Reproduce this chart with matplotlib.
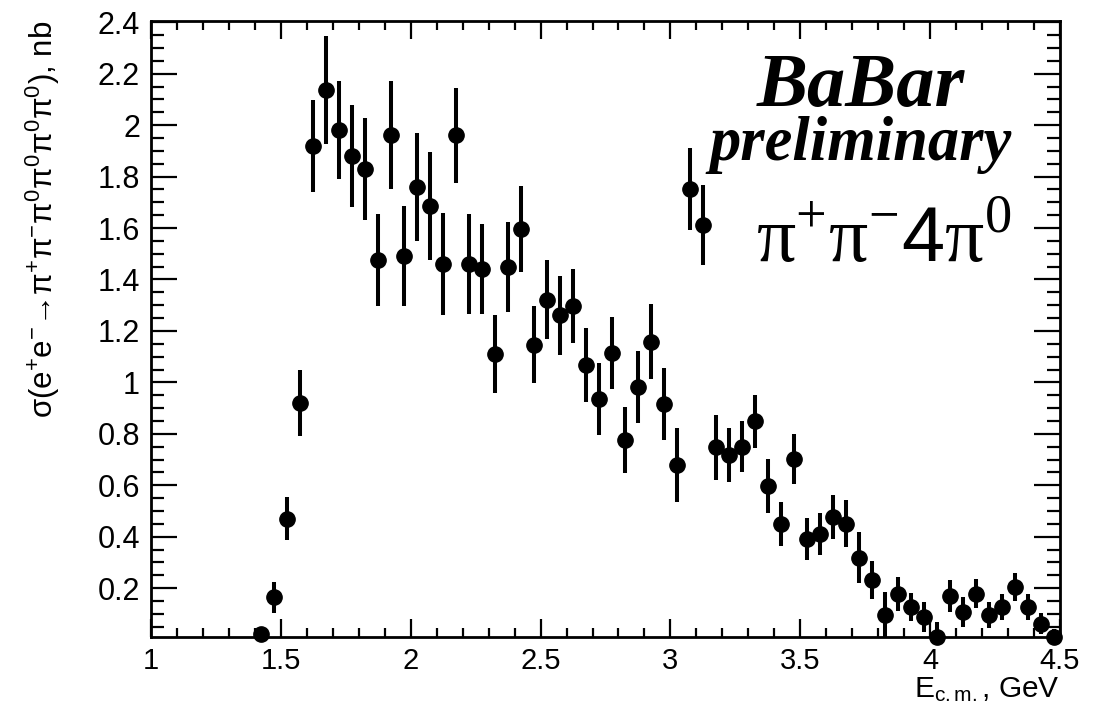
import matplotlib
matplotlib.use("Agg")
import matplotlib.pyplot as plt
from matplotlib.ticker import MultipleLocator, FixedLocator

plt.rcParams['font.family'] = ['Liberation Sans', 'DejaVu Sans']
plt.rcParams['mathtext.fontset'] = 'custom'
plt.rcParams['mathtext.rm'] = 'Liberation Sans'
plt.rcParams['mathtext.sf'] = 'Liberation Sans'
plt.rcParams['mathtext.it'] = 'Liberation Sans:italic'
plt.rcParams['mathtext.cal'] = 'Liberation Serif'
plt.rcParams['mathtext.bf'] = 'Liberation Sans:bold'

# ---- data ----
energy = [1.425, 1.475, 1.525, 1.575, 1.625, 1.675, 1.725, 1.775, 1.825, 1.875,
          1.925, 1.975, 2.025, 2.075, 2.125, 2.175, 2.225, 2.275, 2.325, 2.375,
          2.425, 2.475, 2.525, 2.575, 2.625, 2.675, 2.725, 2.775, 2.825, 2.875,
          2.925, 2.975, 3.025, 3.075, 3.125, 3.175, 3.225, 3.275, 3.325, 3.375,
          3.425, 3.475, 3.525, 3.575, 3.625, 3.675, 3.725, 3.775, 3.825, 3.875,
          3.925, 3.975, 4.025, 4.075, 4.125, 4.175, 4.225, 4.275, 4.325, 4.375,
          4.425, 4.475]
sigma = [0.02, 0.165, 0.47, 0.92, 1.92, 2.135, 1.98, 1.88, 1.83, 1.475,
         1.96, 1.49, 1.76, 1.685, 1.46, 1.96, 1.46, 1.44, 1.11, 1.45,
         1.595, 1.146, 1.322, 1.26, 1.296, 1.068, 0.935, 1.114, 0.776, 0.983,
         1.158, 0.916, 0.679, 1.753, 1.612, 0.747, 0.719, 0.75, 0.848, 0.598,
         0.449, 0.702, 0.391, 0.41, 0.477, 0.451, 0.319, 0.231, 0.095, 0.177,
         0.127, 0.088, 0.01, 0.17, 0.108, 0.179, 0.095, 0.127, 0.205, 0.127,
         0.062, 0.01]
sigma_err = [0.03, 0.06, 0.083, 0.13, 0.178, 0.21, 0.19, 0.20, 0.197, 0.18,
             0.21, 0.195, 0.21, 0.21, 0.20, 0.185, 0.195, 0.175, 0.15, 0.175,
             0.167, 0.149, 0.154, 0.154, 0.143, 0.143, 0.14, 0.139, 0.13, 0.14,
             0.145, 0.141, 0.144, 0.16, 0.156, 0.128, 0.105, 0.10, 0.104, 0.104,
             0.086, 0.099, 0.083, 0.081, 0.086, 0.09, 0.10, 0.073, 0.09, 0.066,
             0.053, 0.058, 0.06, 0.062, 0.058, 0.058, 0.05, 0.049, 0.055, 0.049,
             0.042, 0.03]

x_ticks = [1, 1.5, 2, 2.5, 3, 3.5, 4, 4.5]
x_ticklabels = ['1', '1.5', '2', '2.5', '3', '3.5', '4', '4.5']
y_ticks = [0.2, 0.4, 0.6, 0.8, 1.0, 1.2, 1.4, 1.6, 1.8, 2.0, 2.2, 2.4]
y_ticklabels = ['0.2', '0.4', '0.6', '0.8', '1', '1.2', '1.4', '1.6', '1.8', '2', '2.2', '2.4']

# ---- figure ----
fig = plt.figure(figsize=(11.07, 7.12), dpi=100)
ax = fig.add_axes([151/1107, 1 - 637/712, 909/1107, 616/712])

ax.errorbar(energy, sigma, yerr=sigma_err, fmt='none', ecolor='black',
            elinewidth=2.9, capsize=0)
ax.plot(energy, sigma, 'o', color='black', markersize=11, clip_on=False, zorder=5)

ax.set_xlim(1, 4.5)
ax.set_ylim(0.01, 2.405)

ax.xaxis.set_major_locator(FixedLocator(x_ticks))
ax.set_xticklabels(x_ticklabels)
ax.xaxis.set_minor_locator(MultipleLocator(0.1))
ax.yaxis.set_major_locator(FixedLocator(y_ticks))
ax.set_yticklabels(y_ticklabels)
ax.yaxis.set_minor_locator(MultipleLocator(0.05))

ax.tick_params(axis='both', which='both', direction='in', top=True, right=True,
               color='black')
ax.tick_params(axis='y', which='major', length=19, width=1.6, labelsize=22, pad=8)
ax.tick_params(axis='y', which='minor', length=9.5, width=1.6)
ax.tick_params(axis='x', which='major', length=13, width=1.6, labelsize=21, pad=7)
ax.tick_params(axis='x', which='minor', length=6.5, width=1.6)
for sp in ax.spines.values():
    sp.set_linewidth(2.0)

ax.set_ylabel(r'σ(e$^{+}$e$^{-}$→π$^{+}$π$^{-}$π$^{0}$π$^{0}$π$^{0}$π$^{0}$), nb',
              fontsize=22.5, loc='top')
ax.yaxis.set_label_coords(-0.098, 1.0)
ax.set_xlabel(r'E$_{\mathrm{c.m.}}$, GeV', fontsize=21.5, loc='right')
ax.xaxis.set_label_coords(1.0, -0.062)

ax.text(0.781, 0.862, 'BaBar', transform=ax.transAxes, fontsize=55,
        family='Liberation Serif', weight='bold', style='italic',
        ha='center', va='baseline')
ax.text(0.781, 0.774, 'preliminary', transform=ax.transAxes, fontsize=45,
        family='Liberation Serif', weight='bold', style='italic',
        ha='center', va='baseline')
ax.text(0.947, 0.609,
        r'$\mathcal{\pi}^{\mathcal{+}}\mathcal{\pi}^{\mathcal{-}}4\mathcal{\pi}^{\mathcal{0}}$',
        transform=ax.transAxes, fontsize=56, ha='right', va='baseline')

fig.savefig('out.png', dpi=100)
